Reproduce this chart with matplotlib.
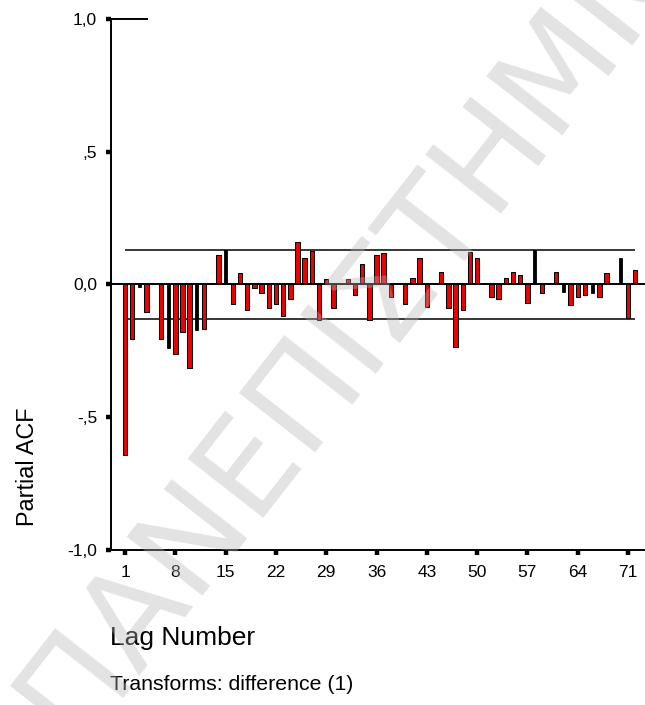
import matplotlib
matplotlib.use("Agg")
import matplotlib.pyplot as plt
import numpy as np

plt.rcParams["font.family"] = ["Liberation Sans", "DejaVu Sans"]

# Partial autocorrelations of the differenced series, lags 1..72
lags = list(range(1, 73))
pacf = [
    -0.645, -0.208, -0.010, -0.104, 0.000, -0.208, -0.240, -0.262, -0.179, -0.317,
    -0.173, -0.170, 0.005, 0.109, 0.128, -0.075, 0.041, -0.098, -0.016, -0.033,
    -0.090, -0.075, -0.120, -0.055, 0.159, 0.098, 0.125, -0.134, 0.019, -0.090,
    0.000, 0.019, -0.040, 0.077, -0.134, 0.109, 0.117, -0.048, 0.005, -0.075,
    0.025, 0.100, -0.084, 0.005, 0.047, -0.090, -0.238, -0.098, 0.122, 0.100,
    0.005, -0.048, -0.056, 0.025, 0.047, 0.035, -0.070, 0.128, -0.034, 0.005,
    0.047, -0.028, -0.078, -0.048, -0.040, -0.033, -0.048, 0.041, 0.000, 0.100,
    -0.128, 0.055,
]
conf_limit = 0.131
xtick_lags = [1, 8, 15, 22, 29, 36, 43, 50, 57, 64, 71]
ytick_vals = [-1.0, -0.5, 0.0, 0.5, 1.0]
ytick_labels = ["-1,0", "-,5", "0,0", ",5", "1,0"]

# lags whose bars render as thin solid black strokes
thin_lags = {3, 7, 11, 13, 15, 39, 44, 51, 58, 60, 62, 66, 70}

W, H = 645, 705
fig = plt.figure(figsize=(W / 100, H / 100), dpi=100)
left_px, right_px, bottom_px, top_px = 111, 645, 549.5, 19
ax = fig.add_axes([left_px / W, 1 - bottom_px / H,
                   (right_px - left_px) / W, (bottom_px - top_px) / H])

ax.set_xlim(-0.95, 73.36)
ax.set_ylim(-1.0, 1.0)

lag_arr = np.array(lags)
val_arr = np.array(pacf)
thin = np.array([l in thin_lags for l in lags])

ax.bar(lag_arr[~thin], val_arr[~thin], width=0.62, color="#ee0000",
       edgecolor="black", linewidth=0.75, zorder=3)
ax.bar(lag_arr[thin], val_arr[thin], width=0.42, color="black",
       edgecolor="black", linewidth=0.6, zorder=3)

# confidence limits
ax.hlines([conf_limit, -conf_limit], lags[0], lags[-1], colors="black",
          linewidth=1.1, zorder=2)
# zero reference line
ax.axhline(0, color="black", linewidth=1.4, zorder=4)

# short segment at the top of the value axis
ax.plot([-0.95, 4.1], [1.0, 1.0], color="black", linewidth=1.4,
        clip_on=False, zorder=4)

for s in ["top", "right"]:
    ax.spines[s].set_visible(False)
for s in ["left", "bottom"]:
    ax.spines[s].set_linewidth(1.4)

ax.set_xticks(xtick_lags)
ax.set_xticklabels([str(v) for v in xtick_lags])
ax.set_yticks(ytick_vals)
ax.set_yticklabels(ytick_labels)
ax.tick_params(axis="both", direction="out", length=3.5, width=3.2,
               labelsize=12.5, colors="black")
ax.tick_params(axis="x", pad=8)
ax.tick_params(axis="y", pad=6.5)

fig.text(27 / W, 1 - 467 / H, "Partial ACF", rotation=90, fontsize=16.8,
         ha="center", va="center")
fig.text(110 / W, 1 - 638 / H, "Lag Number", fontsize=19,
         ha="left", va="center")
fig.text(110 / W, 1 - 685 / H, "Transforms: difference (1)", fontsize=15.3,
         ha="left", va="center")

# translucent diagonal watermark across the page
fig.text(0.561, 0.552, "ΠΑΝΕΠΙΣΤΗΜΙΟ", fontsize=95, rotation=52,
         family="DejaVu Sans", color="#b5b5b5", alpha=0.38,
         ha="center", va="center", rotation_mode="anchor", zorder=10)

fig.savefig("out.png", dpi=100)
